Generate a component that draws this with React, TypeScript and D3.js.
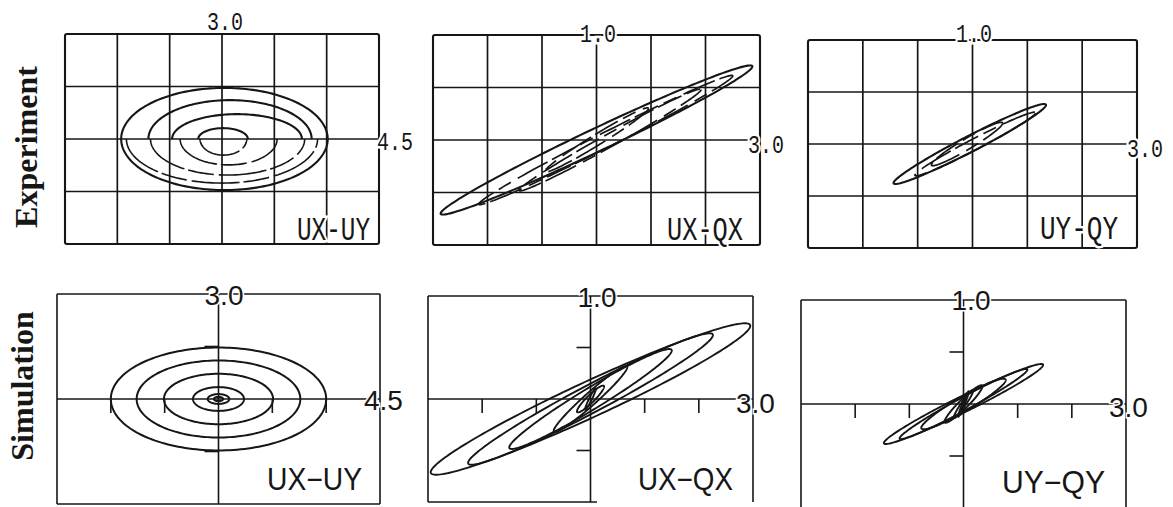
import React from 'react';
import * as d3 from 'd3';

type Frame = { x: number; y: number; w: number; h: number };

// ---- axis settings (value printed at the end of each axis) ----
const xMax = [4.5, 3.0, 3.0];
const yMax = [3.0, 1.0, 1.0];
const xLabels = ['4.5', '3.0', '3.0'];
const yLabels = ['3.0', '1.0', '1.0'];
const expNames = ['UX-UY', 'UX-QX', 'UY-QY'];
const simNames = ['UX\u2212UY', 'UX\u2212QX', 'UY\u2212QY'];
const rowNames = ['Experiment', 'Simulation'];

// grid lines of the recorder charts and tick marks of the simulation plots
const gridX = [[-3, -1.5, 0, 1.5, 3], [-2, -1, 0, 1, 2], [-2, -1, 0, 1, 2]];
const gridY = [[-1.5, 0, 1.5], [-0.5, 0, 0.5], [-0.5, 0, 0.5]];
const simTicksX = [[-3, -1.5, 1.5, 3], [-2, -1, 1, 2], [-2, -1, 1, 2]];
const simTicksY = [[-1.5, 1.5], [-0.5, 0.5], [-0.5, 0.5]];

// ---- measured orbits, UX-UY: half contours [cx, a, b] ----
const expUxUyUpper = [
  [0.07, 2.96, 1.46],
  [0.23, 2.34, 1.11],
  [0.43, 1.86, 0.71],
  [0.03, 0.71, 0.31],
];
const expUxUyLower = [
  [0.07, 2.96, 1.46],
  [0.0, 2.74, 1.26],
  [0.16, 2.21, 1.03],
  [0.19, 1.39, 0.74],
  [0.04, 0.67, 0.46],
];

// ---- hysteresis loops [cx, A, Bc, Bs]:
// x = cx + A cos t, y = Bc cos t - Bs sin t
const expUxQxLoops = [
  [0.0, 2.86, 0.7, 0.12],
  [0.17, 2.33, 0.61, 0.08],
  [0.25, 1.67, 0.48, 0.07],
  [0.0, 0.95, 0.3, 0.06],
];
const expUyQyLoops = [
  [-0.05, 1.39, 0.375, 0.085],
  [0.05, 1.1, 0.3, 0.06],
  [-0.1, 0.65, 0.2, 0.06],
];

// ---- simulated orbits ----
const simUxUyRings = [
  [3.0, 1.47],
  [2.28, 1.1],
  [1.52, 0.72],
  [0.71, 0.34],
  [0.3, 0.14],
  [0.13, 0.06],
];
const simUxQxLoops = [
  [0, 2.95, 0.71, 0.19],
  [0, 2.26, 0.62, 0.15],
  [0, 1.5, 0.47, 0.12],
  [0, 0.68, 0.31, 0.08],
  [0, 0.25, 0.12, 0.05],
  [0, 0.1, 0.1, 0.03],
];
const simUyQyLoops = [
  [0, 1.47, 0.375, 0.085],
  [0, 1.18, 0.33, 0.07],
  [0, 0.78, 0.23, 0.08],
  [0, 0.35, 0.17, 0.06],
  [0, 0.18, 0.13, 0.04],
  [0, 0.1, 0.12, 0.03],
  [0, 0.05, 0.1, 0.02],
];

// ---- layout ----
const W = 1173;
const H = 507;
const expFrames: Frame[] = [
  { x: 65, y: 34, w: 314, h: 210 },
  { x: 433, y: 35, w: 327, h: 210 },
  { x: 808, y: 40, w: 329, h: 208 },
];
const simFrames: Frame[] = [
  { x: 57, y: 294, w: 323, h: 210 },
  { x: 428, y: 296, w: 325, h: 206 },
  { x: 801, y: 300, w: 325, h: 208 },
];
const expTopPos = [[225, 30], [598, 42], [974, 42]];
const expRightPos = [[377, 150], [748, 153], [1127, 157]];
const expNamePos = [[297, 240, 73], [667, 240, 76], [1040, 239, 78]];
const simTopPos = [[224, 305], [597, 307], [971, 310]];
const simRightPos = [[364, 410], [736, 413], [1109, 417]];
const simNamePos = [[267, 490, 95], [638, 490, 95], [1002, 493, 103]];
const simBottomFrac = [1, 0.52, 0];

const INK = '#161616';
const MONO = '"Liberation Mono", "DejaVu Sans Mono", monospace';
const SANS = '"Liberation Sans", Arial, sans-serif';
const SERIF = '"Liberation Serif", "Times New Roman", serif';

function scalesFor(f: Frame, i: number) {
  const xs = d3.scaleLinear().domain([-xMax[i], xMax[i]]).range([f.x, f.x + f.w]);
  const ys = d3.scaleLinear().domain([-yMax[i], yMax[i]]).range([f.y + f.h, f.y]);
  return { xs, ys };
}

function loopPath(loop: number[], xs: any, ys: any) {
  const [cx, A, Bc, Bs] = loop;
  const pts = d3.range(180).map((k) => {
    const t = (2 * Math.PI * k) / 180;
    return [cx + A * Math.cos(t), Bc * Math.cos(t) - Bs * Math.sin(t)] as [number, number];
  });
  return d3
    .line<[number, number]>()
    .x((p) => xs(p[0]))
    .y((p) => ys(p[1]))
    .curve(d3.curveLinearClosed)(pts) as string;
}

function halfPath(h: number[], upper: boolean, xs: any, ys: any) {
  const [cx, a, b] = h;
  const pts = d3.range(91).map((k) => {
    const t = (Math.PI * k) / 90 + (upper ? 0 : Math.PI);
    return [cx + a * Math.cos(t), b * Math.sin(t)] as [number, number];
  });
  return d3
    .line<[number, number]>()
    .x((p) => xs(p[0]))
    .y((p) => ys(p[1]))(pts) as string;
}

function ringPath(r: number[], xs: any, ys: any) {
  return loopPath([0, r[0], 0, r[1]], xs, ys);
}

const halo = { paintOrder: 'stroke' as const, stroke: '#fff', strokeWidth: 5 };

function ExpPanel({ i }: { i: number }) {
  const f = expFrames[i];
  const { xs, ys } = scalesFor(f, i);
  let curves: React.ReactNode[] = [];
  if (i === 0) {
    curves = [
      ...expUxUyUpper.map((h, k) => (
        <path key={'u' + k} d={halfPath(h, true, xs, ys)} fill="none" stroke={INK} strokeWidth={2.1} />
      )),
      ...expUxUyLower.map((h, k) => (
        <path key={'l' + k} d={halfPath(h, false, xs, ys)} fill="none" stroke={INK}
          strokeWidth={k === 0 ? 2.1 : 1.6} strokeDasharray={k === 0 ? undefined : '48 4 26 5'} />
      )),
    ];
  } else {
    const loops = i === 1 ? expUxQxLoops : expUyQyLoops;
    curves = loops.map((l, k) => (
      <path key={k} d={loopPath(l, xs, ys)} fill="none" stroke={INK}
        strokeWidth={k === 0 ? 2.1 : 1.7} strokeDasharray={k === 0 ? undefined : '26 6 14 8 34 5'} />
    ));
  }
  return (
    <g>
      {gridX[i].map((v) => (
        <line key={'gx' + v} x1={xs(v)} x2={xs(v)} y1={f.y} y2={f.y + f.h} stroke={INK} strokeWidth={1.7} />
      ))}
      {gridY[i].map((v) => (
        <line key={'gy' + v} x1={f.x} x2={f.x + f.w} y1={ys(v)} y2={ys(v)} stroke={INK} strokeWidth={1.7} />
      ))}
      <rect x={f.x} y={f.y} width={f.w} height={f.h} fill="none" stroke={INK} strokeWidth={2.1} rx={2} />
      {curves}
      <text x={expTopPos[i][0]} y={expTopPos[i][1]} textAnchor="middle" fontFamily={MONO} fontSize={25}
        fill={INK} {...halo} textLength={36} lengthAdjust="spacingAndGlyphs">{yLabels[i]}</text>
      <text x={expRightPos[i][0]} y={expRightPos[i][1]} fontFamily={MONO} fontSize={25}
        fill={INK} {...halo} textLength={36} lengthAdjust="spacingAndGlyphs">{xLabels[i]}</text>
      <text x={expNamePos[i][0]} y={expNamePos[i][1]} fontFamily={MONO} fontSize={33}
        fill={INK} {...halo} textLength={expNamePos[i][2]} lengthAdjust="spacingAndGlyphs">{expNames[i]}</text>
    </g>
  );
}

function SimPanel({ i }: { i: number }) {
  const f = simFrames[i];
  const { xs, ys } = scalesFor(f, i);
  const curves =
    i === 0
      ? simUxUyRings.map((r, k) => (
          <path key={k} d={ringPath(r, xs, ys)} fill="none" stroke={INK} strokeWidth={2} />
        ))
      : (i === 1 ? simUxQxLoops : simUyQyLoops).map((l, k) => (
          <path key={k} d={loopPath(l, xs, ys)} fill="none" stroke={INK} strokeWidth={1.9} />
        ));
  const x0 = xs(0);
  const y0 = ys(0);
  return (
    <g>
      <line x1={f.x} x2={f.x + f.w} y1={f.y} y2={f.y} stroke={INK} strokeWidth={1.6} />
      <line x1={f.x} x2={f.x} y1={f.y} y2={f.y + f.h} stroke={INK} strokeWidth={1.6} />
      <line x1={f.x + f.w} x2={f.x + f.w} y1={f.y} y2={f.y + f.h} stroke={INK} strokeWidth={1.6} />
      {simBottomFrac[i] > 0 && (
        <line x1={f.x} x2={f.x + f.w * simBottomFrac[i]} y1={f.y + f.h} y2={f.y + f.h} stroke={INK} strokeWidth={1.6} />
      )}
      <line x1={f.x} x2={f.x + f.w} y1={y0} y2={y0} stroke={INK} strokeWidth={1.6} />
      <line x1={x0} x2={x0} y1={f.y} y2={f.y + f.h} stroke={INK} strokeWidth={1.6} />
      {simTicksX[i].map((v) => (
        <line key={'tx' + v} x1={xs(v)} x2={xs(v)} y1={y0} y2={y0 + 14} stroke={INK} strokeWidth={1.6} />
      ))}
      {simTicksY[i].map((v) => (
        <line key={'ty' + v} x1={x0 - 14} x2={x0} y1={ys(v)} y2={ys(v)} stroke={INK} strokeWidth={1.6} />
      ))}
      {curves}
      <text x={simTopPos[i][0]} y={simTopPos[i][1]} textAnchor="middle" fontFamily={SANS} fontSize={28}
        fill={INK} {...halo} strokeWidth={3}>{yLabels[i]}</text>
      <text x={simRightPos[i][0]} y={simRightPos[i][1]} fontFamily={SANS} fontSize={28}
        fill={INK} {...halo} strokeWidth={3}>{xLabels[i]}</text>
      <text x={simNamePos[i][0]} y={simNamePos[i][1]} fontFamily={SANS} fontSize={31}
        fill={INK} textLength={simNamePos[i][2]} lengthAdjust="spacingAndGlyphs">{simNames[i]}</text>
    </g>
  );
}

export default function App() {
  return (
    <svg width={W} height={H} viewBox={`0 0 ${W} ${H}`}
      style={{ position: 'absolute', left: 0, top: 0, background: '#fff' }}>
      <rect x={0} y={0} width={W} height={H} fill="#fff" />
      {[0, 1, 2].map((i) => <ExpPanel key={'e' + i} i={i} />)}
      {[0, 1, 2].map((i) => <SimPanel key={'s' + i} i={i} />)}
      <text transform="translate(37,147) rotate(-90)" textAnchor="middle" fontFamily={SERIF}
        fontWeight="bold" fontSize={32} fill={INK}>{rowNames[0]}</text>
      <text transform="translate(33,386) rotate(-90)" textAnchor="middle" fontFamily={SERIF}
        fontWeight="bold" fontSize={32} fill={INK}>{rowNames[1]}</text>
    </svg>
  );
}
